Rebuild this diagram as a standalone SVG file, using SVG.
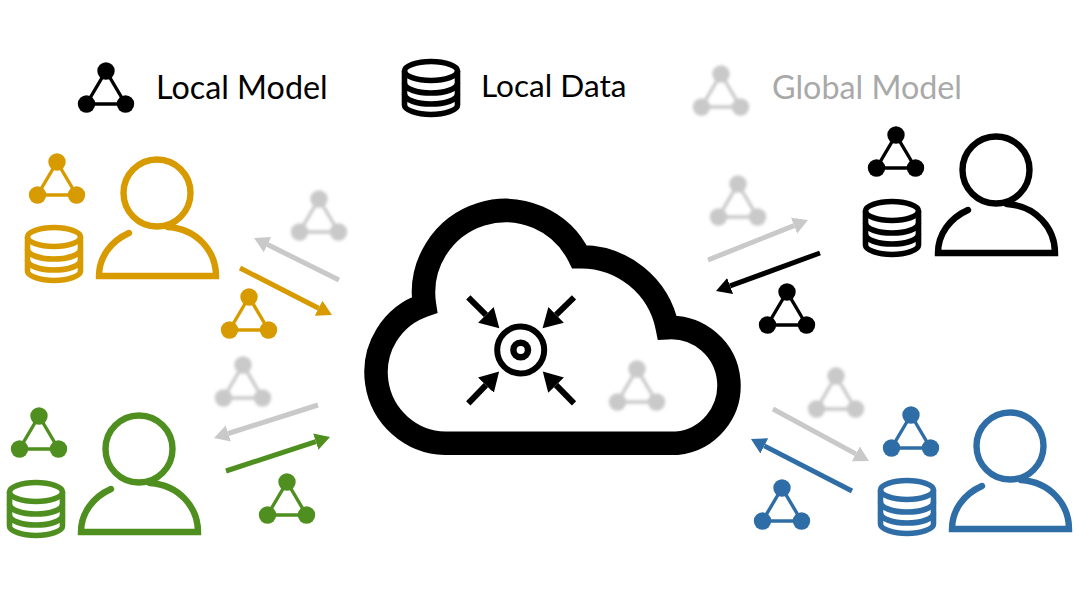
<svg xmlns="http://www.w3.org/2000/svg" width="1080" height="597" viewBox="0 0 1080 597">
<style>
text{font-family:Lato,"Liberation Sans",sans-serif;font-size:32.300px}
.gold{color:#d79b00}.green{color:#4f8f1f}.blue{color:#2f6da6}.black{color:#000}.gray{color:#c9c9c9}
.ln{fill:none;stroke-width:5}
.soft{filter:url(#blur)}
</style>
<defs>
<filter id="blur" x="-30%" y="-30%" width="160%" height="160%"><feGaussianBlur stdDeviation="1.4"/></filter>
<symbol id="model" overflow="visible" viewBox="0 0 1 1" width="1" height="1">
<path d="M0 0L-19.500 33H19.500Z" fill="none" stroke="currentColor" stroke-width="3.400"/>
<circle cx="0" cy="0" r="8.700" fill="currentColor"/><circle cx="-19.500" cy="33" r="8.700" fill="currentColor"/><circle cx="19.500" cy="33" r="8.700" fill="currentColor"/>
</symbol>
<symbol id="db" overflow="visible" viewBox="0 0 1 1" width="1" height="1">
<g fill="none" stroke="currentColor" stroke-width="5.600">
<ellipse cx="0" cy="-17" rx="26.500" ry="9.500"/>
<path d="M-26.500 -17V17C-26.500 22 -14 26.500 0 26.500S26.500 22 26.500 17V-17"/>
<path d="M-26.500 -5C-26.500 1 -14 5 0 5S26.500 1 26.500 -5"/>
<path d="M-26.500 6C-26.500 12 -14 16 0 16S26.500 12 26.500 6"/>
</g>
</symbol>
<symbol id="person" overflow="visible" viewBox="0 0 1 1" width="1" height="1">
<g fill="none" stroke="currentColor" stroke-width="6.400">
<circle cx="0" cy="0" r="33.500"/>
<path d="M-28 40C-46 48 -58 64 -58 83H59C59 58 40 36 11 34" stroke-linecap="round"/>
</g>
</symbol>
<marker id="hGold" markerUnits="userSpaceOnUse" markerWidth="20" markerHeight="20" refX="0" refY="10" orient="auto"><path d="M0 1.500L15 10L0 18.500Z" fill="#d79b00"/></marker>
<marker id="hGreen" markerUnits="userSpaceOnUse" markerWidth="20" markerHeight="20" refX="0" refY="10" orient="auto"><path d="M0 1.500L15 10L0 18.500Z" fill="#4f8f1f"/></marker>
<marker id="hBlue" markerUnits="userSpaceOnUse" markerWidth="20" markerHeight="20" refX="0" refY="10" orient="auto"><path d="M0 1.500L15 10L0 18.500Z" fill="#2f6da6"/></marker>
<marker id="hBlack" markerUnits="userSpaceOnUse" markerWidth="20" markerHeight="20" refX="0" refY="10" orient="auto"><path d="M0 1.500L15 10L0 18.500Z" fill="#000"/></marker>
<marker id="hGray" markerUnits="userSpaceOnUse" markerWidth="20" markerHeight="20" refX="0" refY="10" orient="auto"><path d="M0 1.500L15 10L0 18.500Z" fill="#c9c9c9"/></marker>
<marker id="hIn" markerUnits="userSpaceOnUse" markerWidth="26" markerHeight="26" refX="0" refY="13" orient="auto"><path d="M0 2L19 13L0 24Z" fill="#000"/></marker>
</defs>
<rect width="1080" height="597" fill="#fff"/>

<g id="legend-local-model"><use href="#model" x="106" y="71" class="black"/><text x="156" y="99" fill="#000">Local Model</text></g>
<g id="legend-local-data"><use href="#db" x="431" y="88" class="black"/><text x="481" y="97" fill="#000" style="font-size:31.600px">Local Data</text></g>
<g id="legend-global-model"><use href="#model" x="721" y="74" class="gray soft"/><text x="772" y="99" fill="#a9a9a9">Global Model</text></g>

<g id="cloud">
<path d="M445 443.300H676.700A58 58 0 0 0 667.300 327.700A88 88 0 0 0 579.300 256.700A82 82 0 0 0 424.500 305A71 71 0 0 0 445 443.300Z" fill="#fff" stroke="#000" stroke-width="23.500" stroke-linejoin="miter" stroke-miterlimit="6"/>
<circle cx="520.700" cy="350" r="23.500" fill="none" stroke="#000" stroke-width="6"/>
<circle cx="520.700" cy="350" r="7.300" fill="none" stroke="#000" stroke-width="6.500"/>
<use href="#model" x="637" y="369" class="gray soft"/>
</g>

<g id="client-gold">
<use href="#model" x="57" y="162" class="gold"/><use href="#db" x="54" y="254" class="gold"/><use href="#person" x="157" y="193" class="gold"/>
<use href="#model" x="249" y="297" class="gold"/><use href="#model" x="319" y="199" class="gray soft"/>
</g>
<g id="client-green">
<use href="#model" x="39" y="416" class="green"/><use href="#db" x="36" y="509" class="green"/><use href="#person" x="139" y="449" class="green"/>
<use href="#model" x="287" y="482" class="green"/><use href="#model" x="243" y="365" class="gray soft"/>
</g>
<g id="client-black">
<use href="#model" x="896" y="135" class="black"/><use href="#db" x="892" y="228" class="black"/><use href="#person" x="996" y="170" class="black"/>
<use href="#model" x="787" y="292" class="black"/><use href="#model" x="738" y="184" class="gray soft"/>
</g>
<g id="client-blue">
<use href="#model" x="911" y="415" class="blue"/><use href="#db" x="907" y="507" class="blue"/><use href="#person" x="1010" y="446" class="blue"/>
<use href="#model" x="782" y="488" class="blue"/><use href="#model" x="836" y="376" class="gray soft"/>
</g>

<g id="connectors">
<line class="ln" x1="339" y1="280" x2="267.500" y2="244.600" stroke="#c9c9c9" marker-end="url(#hGray)"/>
<line class="ln" x1="240" y1="268" x2="318.600" y2="308.200" stroke="#d79b00" marker-end="url(#hGold)"/>
<line class="ln" x1="318" y1="405" x2="228.300" y2="433.500" stroke="#c9c9c9" marker-end="url(#hGray)"/>
<line class="ln" x1="226" y1="471" x2="315.800" y2="441.700" stroke="#4f8f1f" marker-end="url(#hGreen)"/>
<line class="ln" x1="708" y1="260" x2="794.100" y2="225.600" stroke="#c9c9c9" marker-end="url(#hGray)"/>
<line class="ln" x1="820" y1="253" x2="730.100" y2="285.900" stroke="#000" marker-end="url(#hBlack)"/>
<line class="ln" x1="773" y1="409" x2="855.800" y2="453.900" stroke="#c9c9c9" marker-end="url(#hGray)"/>
<line class="ln" x1="852" y1="491" x2="764.300" y2="445.900" stroke="#2f6da6" marker-end="url(#hBlue)"/>
<line x1="468.300" y1="297.300" x2="485.900" y2="314.900" stroke="#000" stroke-width="6" marker-end="url(#hIn)"/>
<line x1="574" y1="297.300" x2="556.100" y2="314.900" stroke="#000" stroke-width="6" marker-end="url(#hIn)"/>
<line x1="468.300" y1="403.300" x2="485.900" y2="385.100" stroke="#000" stroke-width="6" marker-end="url(#hIn)"/>
<line x1="574" y1="403.300" x2="556.100" y2="385.100" stroke="#000" stroke-width="6" marker-end="url(#hIn)"/>
</g>
</svg>
